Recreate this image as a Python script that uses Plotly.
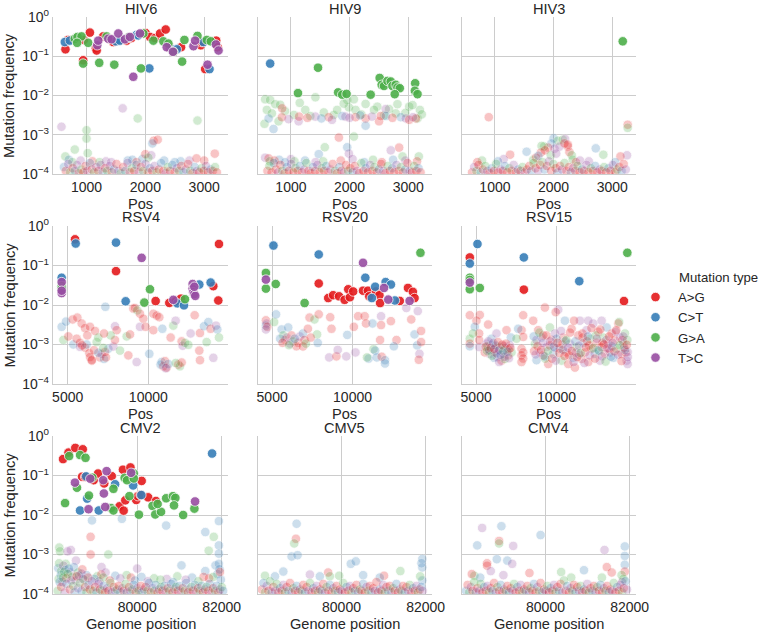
import plotly.graph_objects as go

# ---------------- data (position, mutation frequency, mutation type code) ----------------
# type codes: A -> "A>G", C -> "C>T", G -> "G>A", T -> "T>C"
TYPE_NAMES = {"A": "A>G", "C": "C>T", "G": "G>A", "T": "T>C"}
TYPE_ORDER = ["A>G", "C>T", "G>A", "T>C"]
TYPE_COLORS = {"A>G": "#e41a1c", "C>T": "#377eb8", "G>A": "#4daf4a", "T>C": "#984ea3"}

PANEL_ORDER = ["HIV6", "HIV9", "HIV3", "RSV4", "RSV20", "RSV15", "CMV2", "CMV5", "CMV4"]
X_TICKS = {"HIV": [1000, 2000, 3000], "RSV": [5000, 10000], "CMV": [80000, 82000]}
Y_TICKS = [1e-4, 1e-3, 1e-2, 1e-1, 1]
Y_TICK_TEXT = ["10<sup>−4</sup>", "10<sup>−3</sup>", "10<sup>−2</sup>", "10<sup>−1</sup>", "10<sup>0</sup>"]
X_LABELS = {"HIV": "Pos", "RSV": "Pos", "CMV": "Genome position"}
Y_LABEL = "Mutation frequency"
LEGEND_TITLE = "Mutation type"

HIV6_strong = [
    (642, .15, "A"), (688, .26, "A"), (955, .26, "A"), (1057, .40, "A"), (1159, .16, "A"), (1172, .14, "A"),
    (1284, .32, "A"), (1400, .27, "A"), (1454, .23, "A"), (1596, .26, "A"), (1682, .25, "A"), (1760, .29, "A"),
    (2005, .39, "A"), (2079, .31, "A"), (2164, .29, "A"), (2250, .38, "A"), (2346, .48, "A"), (2420, .16, "A"),
    (2607, .17, "A"), (2943, .19, "A"), (2960, .23, "A"), (3204, .25, "A"), (3227, .17, "A"), (943, .079, "A"),
    (3017, .047, "A"),
    (631, .23, "C"), (716, .25, "C"), (1500, .24, "C"), (1568, .25, "C"), (1852, .35, "C"), (1880, .34, "C"),
    (2448, .15, "C"), (2534, .15, "C"), (2988, .23, "C"), (2068, .049, "C"), (3091, .047, "C"),
    (801, .28, "G"), (846, .31, "G"), (915, .32, "G"), (840, .22, "G"), (1028, .22, "G"), (1341, .32, "G"),
    (1710, .30, "G"), (1966, .38, "G"), (2136, .25, "G"), (2306, .24, "G"), (2392, .21, "G"), (2477, .13, "G"),
    (2664, .26, "G"), (2886, .33, "G"), (3045, .26, "G"), (3113, .24, "G"), (943, .065, "G"), (1216, .068, "G"),
    (1472, .061, "G"), (1926, .049, "G"), (2625, .073, "G"),
    (1182, .19, "T"), (1199, .25, "T"), (1369, .28, "T"), (1426, .27, "T"), (1540, .38, "T"), (1653, .27, "T"),
    (1738, .31, "T"), (1909, .38, "T"), (2363, .17, "T"), (2470, .13, "T"), (2818, .18, "T"), (2846, .25, "T"),
    (3200, .20, "T"), (3244, .14, "T"), (1795, .030, "T"), (3057, .061, "T"),
]
HIV6_faint = [
    (574, 1.6e-3, "T"), (1614, 4.7e-3, "T"), (1870, 2.6e-3, "G"), (2886, 2.3e-3, "G"), (1000, 1.3e-3, "G"),
    (1000, 8e-4, "G"), (2140, 7e-4, "A"), (2210, 7.5e-4, "A"), (2120, 6e-4, "C"), (800, 4.2e-4, "G"),
    (640, 2.8e-4, "G"), (700, 2.3e-4, "C"), (760, 2.0e-4, "G"), (900, 2.2e-4, "T"), (1020, 3.4e-4, "G"),
    (1100, 2.1e-4, "A"), (1220, 2.0e-4, "G"), (1330, 2.1e-4, "T"), (1420, 2.0e-4, "T"), (1700, 2.2e-4, "C"),
    (1780, 2.3e-4, "C"), (1850, 2.0e-4, "A"), (1950, 2.4e-4, "C"), (2000, 3.2e-4, "A"), (2100, 3.0e-4, "T"),
    (2050, 2.6e-4, "G"), (2320, 2.2e-4, "C"), (2600, 2.1e-4, "C"), (2750, 2.2e-4, "T"), (2870, 2.5e-4, "A"),
    (3000, 2.2e-4, "A"), (3180, 3.3e-4, "A"), (2500, 2.0e-4, "C"),
    (615, 1.5e-4, "C"), (648, 1.2e-4, "A"), (690, 1.8e-4, "T"), (722, 1.1e-4, "G"), (765, 1.4e-4, "A"),
    (801, 1.2e-4, "C"), (838, 1.7e-4, "T"), (870, 1.05e-4, "A"), (912, 1.3e-4, "G"), (947, 1.1e-4, "A"),
    (985, 1.6e-4, "A"), (1012, 1.2e-4, "T"), (1056, 1.9e-4, "C"), (1090, 1.3e-4, "A"), (1128, 1.1e-4, "G"),
    (1165, 1.5e-4, "T"), (1203, 1.2e-4, "A"), (1241, 1.7e-4, "T"), (1276, 1.1e-4, "C"), (1318, 1.4e-4, "A"),
    (1352, 1.2e-4, "G"), (1395, 1.6e-4, "T"), (1430, 1.1e-4, "A"), (1468, 1.3e-4, "C"), (1509, 1.8e-4, "A"),
    (1544, 1.2e-4, "T"), (1583, 1.05e-4, "G"), (1622, 1.5e-4, "A"), (1660, 1.2e-4, "C"), (1697, 1.9e-4, "T"),
    (1735, 1.1e-4, "A"), (1772, 1.4e-4, "G"), (1811, 1.2e-4, "A"), (1849, 1.7e-4, "C"), (1887, 1.1e-4, "T"),
    (1925, 1.5e-4, "A"), (1962, 1.2e-4, "G"), (2004, 1.8e-4, "T"), (2041, 1.1e-4, "A"), (2079, 1.4e-4, "C"),
    (2118, 1.2e-4, "A"), (2155, 1.6e-4, "T"), (2193, 1.1e-4, "G"), (2231, 1.3e-4, "A"), (2268, 1.9e-4, "C"),
    (2307, 1.2e-4, "A"), (2345, 1.05e-4, "T"), (2383, 1.5e-4, "G"), (2420, 1.2e-4, "A"), (2458, 1.7e-4, "C"),
    (2497, 1.1e-4, "A"), (2535, 1.4e-4, "T"), (2572, 1.2e-4, "G"), (2611, 1.6e-4, "A"), (2649, 1.1e-4, "C"),
    (2687, 1.3e-4, "T"), (2725, 1.8e-4, "A"), (2763, 1.2e-4, "G"), (2802, 1.05e-4, "A"), (2840, 1.5e-4, "C"),
    (2878, 1.2e-4, "T"), (2916, 1.1e-4, "A"), (2955, 1.4e-4, "G"), (2993, 1.2e-4, "A"), (3031, 1.6e-4, "T"),
    (3070, 1.1e-4, "A"), (3108, 1.3e-4, "C"), (3146, 1.2e-4, "A"), (3185, 1.5e-4, "G"), (3215, 1.1e-4, "A"),
]

HIV9_strong = [
    (646, .065, "C"), (1462, .051, "G"), (1120, .0115, "G"), (1805, .012, "G"), (1874, .0105, "G"),
    (1948, .011, "G"), (2359, .0105, "G"), (2513, .028, "G"), (2547, .0187, "G"), (2587, .0175, "G"),
    (2645, .0235, "G"), (2702, .0227, "G"), (2730, .0175, "G"), (2787, .0187, "G"), (2816, .016, "G"),
    (2856, .0153, "G"), (2770, .0108, "G"), (3118, .0205, "G"), (3113, .0132, "G"), (3158, .0108, "G"),
]
HIV9_faint = [
    (560, 8e-3, "G"), (646, 7.7e-3, "G"), (732, 6e-3, "G"), (817, 5.8e-3, "G"), (589, 4.3e-3, "G"),
    (675, 3.5e-3, "G"), (549, 1.9e-3, "G"), (789, 2.2e-3, "G"), (1245, 4.3e-3, "G"), (1417, 9e-3, "G"),
    (1560, 3.7e-3, "G"), (1731, 3.2e-3, "G"), (1988, 5e-3, "G"), (2102, 4.3e-3, "G"), (1960, 7.7e-3, "G"),
    (2073, 8e-3, "G"), (2273, 6.1e-3, "G"), (2473, 5.2e-3, "G"), (2673, 4.5e-3, "G"), (2816, 6e-3, "G"),
    (3016, 5.2e-3, "G"), (3198, 4.3e-3, "G"), (3158, 2.6e-3, "G"), (3073, 5.7e-3, "G"), (2787, 3.5e-3, "G"),
    (2416, 4.3e-3, "G"), (1788, 4.3e-3, "G"), (1577, 4.8e-4, "G"), (2073, 9e-4, "G"), (1050, 3.2e-3, "G"),
    (1330, 3.0e-3, "G"), (900, 4.0e-3, "G"), (2200, 3.3e-3, "G"), (2590, 3.1e-3, "G"), (2950, 3.6e-3, "G"),
    (1150, 6.5e-3, "G"), (1900, 6.2e-3, "G"), (3230, 3.3e-3, "G"),
    (846, 2.8e-3, "A"), (850, 4.7e-3, "A"), (1131, 2.2e-3, "T"), (703, 1.4e-3, "C"), (620, 2.6e-3, "C"),
    (1140, 2.9e-3, "A"), (1417, 2.9e-3, "T"), (1645, 2.8e-3, "A"), (1874, 3.0e-3, "C"), (1930, 2.9e-3, "T"),
    (2102, 2.8e-3, "A"), (2273, 2.6e-3, "A"), (2273, 1.7e-3, "C"), (2502, 2.2e-3, "A"), (2616, 4.5e-3, "T"),
    (2530, 3.0e-3, "A"), (2873, 2.8e-3, "C"), (2959, 2.6e-3, "T"), (3016, 2.4e-3, "A"), (3130, 2.6e-3, "A"),
    (2620, 3.0e-3, "C"), (1817, 8.5e-4, "A"), (960, 2.5e-3, "T"), (1280, 2.7e-3, "A"), (1520, 2.6e-3, "C"),
    (2000, 2.7e-3, "T"), (2380, 2.9e-3, "T"), (2730, 2.7e-3, "A"), (3080, 2.8e-3, "T"), (1700, 2.4e-3, "T"),
    (2180, 3.1e-3, "C"),
    (2845, 4.7e-4, "A"), (2702, 4e-4, "T"), (2742, 2.3e-4, "C"), (2902, 2.8e-4, "G"), (3180, 2.8e-4, "G"),
    (1960, 4.8e-4, "C"), (1988, 3.3e-4, "T"), (1474, 3.2e-4, "C"), (560, 2.6e-4, "T"), (620, 2.5e-4, "A"),
    (800, 2.3e-4, "C"), (1000, 2.4e-4, "T"),
    (640, 2.1e-4, "G"), (720, 2.2e-4, "A"), (900, 2.0e-4, "C"), (1060, 2.1e-4, "G"), (1240, 2.2e-4, "C"),
    (1420, 2.0e-4, "T"), (1550, 2.1e-4, "G"), (1850, 2.2e-4, "A"), (2050, 2.4e-4, "T"), (2250, 2.0e-4, "C"),
    (2400, 2.3e-4, "G"), (2550, 2.0e-4, "A"), (2950, 2.2e-4, "T"), (3150, 2.1e-4, "A"),
    (600, 1.2e-4, "A"), (633, 1.6e-4, "G"), (671, 1.1e-4, "A"), (707, 1.9e-4, "C"), (744, 1.3e-4, "A"),
    (782, 1.1e-4, "T"), (819, 1.7e-4, "A"), (853, 1.2e-4, "G"), (893, 1.05e-4, "A"), (929, 1.5e-4, "C"),
    (966, 1.2e-4, "A"), (1004, 1.8e-4, "T"), (1041, 1.1e-4, "A"), (1077, 1.4e-4, "G"), (1115, 1.2e-4, "A"),
    (1152, 1.6e-4, "C"), (1190, 1.1e-4, "A"), (1228, 1.3e-4, "T"), (1263, 1.9e-4, "G"), (1301, 1.2e-4, "A"),
    (1339, 1.05e-4, "A"), (1376, 1.5e-4, "C"), (1413, 1.2e-4, "A"), (1451, 1.7e-4, "T"), (1488, 1.1e-4, "A"),
    (1526, 1.4e-4, "G"), (1562, 1.2e-4, "A"), (1600, 1.6e-4, "C"), (1639, 1.1e-4, "A"), (1675, 1.3e-4, "T"),
    (1713, 1.8e-4, "A"), (1750, 1.2e-4, "G"), (1788, 1.05e-4, "A"), (1826, 1.5e-4, "C"), (1862, 1.2e-4, "A"),
    (1900, 1.1e-4, "T"), (1938, 1.7e-4, "A"), (1975, 1.2e-4, "G"), (2013, 1.4e-4, "A"), (2050, 1.1e-4, "C"),
    (2088, 1.6e-4, "A"), (2126, 1.2e-4, "T"), (2163, 1.05e-4, "A"), (2200, 1.9e-4, "G"), (2238, 1.2e-4, "A"),
    (2276, 1.4e-4, "C"), (2312, 1.1e-4, "A"), (2350, 1.7e-4, "T"), (2388, 1.2e-4, "A"), (2425, 1.5e-4, "G"),
    (2463, 1.1e-4, "A"), (2500, 1.3e-4, "C"), (2537, 1.8e-4, "A"), (2575, 1.2e-4, "T"), (2612, 1.05e-4, "A"),
    (2650, 1.6e-4, "G"), (2688, 1.2e-4, "A"), (2725, 1.4e-4, "C"), (2762, 1.1e-4, "A"), (2800, 1.7e-4, "T"),
    (2838, 1.2e-4, "A"), (2875, 1.5e-4, "G"), (2912, 1.1e-4, "A"), (2950, 1.3e-4, "C"), (2988, 1.9e-4, "A"),
    (3025, 1.2e-4, "T"), (3062, 1.1e-4, "A"), (3100, 1.6e-4, "G"), (3138, 1.2e-4, "A"), (3175, 1.4e-4, "C"),
    (3210, 1.1e-4, "A"),
]

HIV3_strong = [(3179, .24, "G")]
HIV3_faint = [
    (3263, 1.8e-3, "A"), (3263, 1.5e-3, "G"), (895, 2.8e-3, "A"), (2000, 8.1e-4, "C"), (2073, 7e-4, "G"),
    (2157, 7.5e-4, "G"), (2197, 7.8e-4, "T"), (2242, 5e-4, "A"), (2270, 3.6e-4, "A"), (2309, 3e-4, "G"),
    (2326, 2.3e-4, "G"), (1963, 6e-4, "C"), (1906, 4.7e-4, "A"), (1839, 5e-4, "G"), (1795, 5.2e-4, "G"),
    (1783, 3.5e-4, "A"), (1850, 4e-4, "A"), (1952, 3e-4, "G"), (2017, 4.4e-4, "T"), (2101, 5e-4, "T"),
    (2185, 6e-4, "A"), (2242, 5.6e-4, "A"), (2045, 3.3e-4, "T"), (1540, 3.7e-4, "C"), (2719, 4.5e-4, "C"),
    (2848, 3.1e-4, "G"), (3252, 3e-4, "T"), (3140, 2.8e-4, "A"), (1259, 3.1e-4, "A"), (1652, 2.3e-4, "G"),
    (1700, 2.6e-4, "A"), (1740, 2.9e-4, "C"), (2380, 2.0e-4, "A"), (2450, 2.2e-4, "T"), (1150, 2.4e-4, "T"),
    (780, 2.2e-4, "G"), (700, 2.0e-4, "A"), (1050, 2.1e-4, "C"), (2600, 2.1e-4, "T"), (3050, 2.0e-4, "C"),
    (610, 1.1e-4, "A"), (645, 1.5e-4, "T"), (685, 1.2e-4, "G"), (720, 1.7e-4, "A"), (760, 1.1e-4, "C"),
    (795, 1.3e-4, "A"), (835, 1.6e-4, "G"), (870, 1.2e-4, "T"), (910, 1.05e-4, "A"), (945, 1.4e-4, "C"),
    (985, 1.2e-4, "A"), (1020, 1.8e-4, "G"), (1060, 1.1e-4, "A"), (1095, 1.3e-4, "T"), (1135, 1.2e-4, "A"),
    (1170, 1.6e-4, "C"), (1210, 1.1e-4, "A"), (1245, 1.4e-4, "G"), (1285, 1.2e-4, "A"), (1320, 1.7e-4, "T"),
    (1360, 1.1e-4, "A"), (1395, 1.3e-4, "C"), (1435, 1.2e-4, "A"), (1470, 1.5e-4, "G"), (1510, 1.1e-4, "T"),
    (1545, 1.3e-4, "A"), (1585, 1.6e-4, "A"), (1620, 1.2e-4, "C"), (1660, 1.9e-4, "G"), (1695, 1.4e-4, "A"),
    (1735, 1.2e-4, "T"), (1770, 1.7e-4, "A"), (1810, 2.0e-4, "G"), (1845, 1.3e-4, "C"), (1885, 1.6e-4, "A"),
    (1920, 2.1e-4, "T"), (1960, 1.2e-4, "A"), (1995, 1.8e-4, "G"), (2035, 1.4e-4, "A"), (2070, 1.1e-4, "C"),
    (2110, 1.6e-4, "A"), (2145, 1.3e-4, "T"), (2185, 1.9e-4, "G"), (2220, 1.2e-4, "A"), (2260, 1.5e-4, "A"),
    (2295, 1.1e-4, "C"), (2335, 1.4e-4, "T"), (2370, 1.2e-4, "A"), (2410, 1.6e-4, "G"), (2445, 1.1e-4, "A"),
    (2485, 1.3e-4, "C"), (2520, 1.2e-4, "A"), (2560, 1.7e-4, "T"), (2595, 1.1e-4, "A"), (2635, 1.4e-4, "G"),
    (2670, 1.2e-4, "A"), (2710, 1.6e-4, "C"), (2745, 1.1e-4, "A"), (2785, 1.3e-4, "T"), (2820, 1.2e-4, "A"),
    (2860, 1.5e-4, "G"), (2895, 1.1e-4, "A"), (2935, 1.4e-4, "C"), (2970, 1.2e-4, "A"), (3010, 1.7e-4, "T"),
    (3045, 1.1e-4, "A"), (3085, 1.3e-4, "G"), (3120, 1.5e-4, "A"), (3160, 1.2e-4, "C"), (3195, 1.8e-4, "A"),
    (3230, 1.3e-4, "T"),
]

RSV4_strong = [
    (4628, .049, "C"), (4628, .038, "T"), (4628, .020, "T"), (4628, .030, "G"), (4628, .026, "G"),
    (4628, .023, "T"), (5455, .46, "A"), (5496, .36, "C"), (7996, .38, "C"), (7996, .072, "A"),
    (9587, .156, "T"), (8595, .0124, "C"), (9752, .0115, "G"), (10103, .025, "G"), (10454, .0126, "A"),
    (11301, .0113, "A"), (11550, .0135, "T"), (11700, .0125, "A"), (11797, .011, "C"), (12024, .0145, "A"),
    (12272, .014, "G"), (12210, .0098, "C"), (12748, .034, "T"), (12748, .026, "T"), (12790, .021, "T"),
    (12850, .019, "T"), (12910, .017, "T"), (12850, .029, "T"), (13161, .033, "C"), (13863, .037, "C"),
    (14029, .030, "A"), (14339, .013, "A"), (14380, .35, "A"),
]
RSV4_faint = [
    (4628, 2.8e-3, "C"), (4897, 3.8e-3, "C"), (4731, 1.3e-3, "G"), (5041, 1.6e-3, "A"), (5351, 1.0e-3, "C"),
    (5310, 4.3e-3, "A"), (5600, 4.8e-3, "A"), (5868, 3.4e-3, "A"), (6074, 2.6e-3, "A"), (6384, 2.8e-3, "A"),
    (6694, 2.2e-3, "A"), (6219, 1.7e-3, "A"), (5558, 1.4e-3, "A"), (5764, 1.1e-3, "A"), (5764, 8.7e-4, "T"),
    (6074, 8.3e-4, "A"), (6177, 1e-3, "C"), (6343, 6e-4, "A"), (6384, 4.8e-4, "A"), (6487, 4.1e-4, "A"),
    (6632, 7.2e-4, "A"), (6797, 1.15e-3, "G"), (6900, 1.5e-3, "G"), (7004, 4.7e-4, "A"), (7107, 5.8e-4, "T"),
    (7252, 4.3e-4, "C"), (7314, 6.5e-4, "A"), (7376, 4.7e-4, "A"), (7521, 7.8e-4, "C"), (7831, 8.9e-4, "T"),
    (7934, 2.9e-3, "T"), (8038, 2.3e-3, "A"), (7934, 1.3e-3, "A"), (7335, 9e-3, "C"), (7666, 1.7e-3, "G"),
    (7252, 1.9e-3, "A"), (8245, 7e-4, "G"), (8761, 5.3e-4, "A"), (8658, 1.6e-3, "G"), (8865, 1.8e-3, "A"),
    (9071, 8.1e-3, "A"), (9174, 8.4e-3, "A"), (9318, 7.3e-3, "G"), (9483, 6e-3, "A"), (9277, 3.6e-4, "T"),
    (9483, 2.8e-3, "T"), (9690, 4.5e-3, "A"), (9835, 2.8e-3, "A"), (10062, 5.8e-4, "C"), (10310, 2.3e-3, "A"),
    (10310, 6e-3, "A"), (10516, 5.4e-3, "A"), (10682, 4.9e-3, "A"), (10868, 2.5e-3, "C"), (10826, 3.6e-4, "C"),
    (10929, 2.8e-4, "A"), (11033, 3.8e-4, "A"), (11136, 2.6e-4, "A"), (11240, 3.2e-4, "C"), (11384, 1.5e-3, "A"),
    (11550, 3e-3, "G"), (11694, 4e-3, "T"), (11859, 3.1e-4, "A"), (11962, 2.8e-4, "G"), (12066, 3.5e-4, "A"),
    (12066, 1.2e-3, "A"), (12128, 9.3e-4, "T"), (12272, 1.1e-3, "G"), (12479, 9.8e-4, "G"), (12624, 1.9e-3, "T"),
    (12872, 5.5e-3, "A"), (13161, 7e-4, "A"), (13203, 1.95e-3, "A"), (13203, 4e-4, "A"), (13451, 2.9e-3, "C"),
    (13720, 3.7e-3, "C"), (13616, 1.15e-3, "G"), (13863, 2.5e-3, "A"), (14029, 4.6e-4, "T"), (14194, 3e-3, "T"),
    (14277, 2.4e-3, "C"), (14380, 1.5e-3, "G"), (10760, 3.1e-4, "C"), (11080, 2.5e-4, "T"), (11700, 3.4e-4, "G"),
    (6500, 3.9e-4, "A"), (6900, 6.2e-4, "C"), (7200, 8.2e-4, "G"), (5900, 9.5e-4, "A"),
]

RSV20_strong = [
    (5082, .32, "C"), (7897, .19, "C"), (10651, .117, "T"), (14221, .21, "G"), (4612, .065, "G"),
    (4612, .044, "T"), (4612, .026, "G"), (5224, .034, "G"), (7020, .0112, "G"), (7897, .035, "A"),
    (8488, .015, "A"), (8794, .0177, "A"), (9162, .0166, "A"), (9508, .0135, "A"), (9733, .025, "A"),
    (9835, .0157, "A"), (10039, .022, "A"), (10651, .023, "A"), (10957, .023, "A"), (11038, .0166, "A"),
    (11467, .022, "A"), (11671, .0177, "A"), (11712, .0112, "A"), (12936, .0127, "A"), (13446, .027, "A"),
    (13752, .0215, "A"), (13854, .015, "A"),
    (10794, .049, "C"), (11406, .029, "C"), (11202, .015, "C"), (12058, .038, "C"), (12385, .033, "C"),
    (12630, .013, "C"), (11956, .027, "T"), (12222, .0137, "T"), (13548, .0127, "T"),
]
RSV20_faint = [
    (4612, 4.1e-3, "A"), (4612, 3e-3, "C"), (4650, 3.4e-3, "T"), (4700, 2.8e-3, "A"), (5126, 3.7e-3, "G"),
    (5245, 5.8e-3, "C"), (5592, 2.4e-3, "C"), (6000, 2.7e-3, "C"), (5694, 1.7e-3, "G"), (5796, 1.3e-3, "A"),
    (5898, 1.5e-3, "T"), (6204, 1.7e-3, "A"), (6306, 1.2e-3, "G"), (6612, 1.1e-3, "A"), (6714, 1.6e-3, "T"),
    (6918, 1.9e-3, "C"), (7020, 1.3e-3, "A"), (7224, 2.5e-3, "A"), (7326, 4.8e-3, "A"), (7632, 4.3e-3, "G"),
    (7795, 1.8e-3, "G"), (7897, 5.8e-3, "A"), (7836, 1.1e-3, "C"), (6510, 9e-4, "A"), (6918, 8.9e-4, "A"),
    (6102, 1.05e-3, "T"), (8611, 4.9e-3, "A"), (8549, 4.7e-4, "T"), (8998, 5e-4, "A"), (9080, 7.3e-4, "T"),
    (8692, 2.5e-3, "A"), (9672, 1.75e-3, "C"), (9611, 5e-4, "T"), (10080, 2.8e-3, "A"), (10182, 6.3e-4, "T"),
    (10345, 5.2e-3, "A"), (10753, 5.2e-3, "A"), (10835, 3.4e-3, "A"), (10998, 4.4e-4, "C"), (10896, 4.7e-4, "G"),
    (11243, 3.4e-3, "C"), (11304, 7.6e-4, "G"), (11406, 7e-4, "C"), (11508, 4.7e-4, "C"), (11712, 1.3e-3, "A"),
    (11773, 5.2e-3, "T"), (11773, 3.1e-3, "A"), (11814, 4.9e-4, "A"), (12018, 4e-4, "C"), (12018, 3.3e-4, "C"),
    (12385, 3.9e-3, "A"), (12732, 1.3e-3, "A"), (12569, 9e-4, "C"), (13344, 8.4e-3, "T"), (13650, 4.3e-3, "A"),
    (13854, 1.8e-3, "C"), (14058, 7e-3, "T"), (14017, 9.5e-4, "C"), (14160, 5.8e-4, "T"), (14119, 4.1e-4, "A"),
    (14262, 2.2e-3, "A"), (14262, 1.15e-3, "A"), (5500, 1.4e-3, "C"), (5650, 1.1e-3, "A"), (6050, 9.6e-4, "G"),
    (6400, 1.4e-3, "C"), (7100, 1.05e-3, "G"), (7400, 1.5e-3, "A"), (4612, 2.4e-3, "T"),
]

RSV15_strong = [
    (5083, .35, "C"), (4606, .16, "A"), (4606, .112, "C"), (4606, .049, "G"), (4606, .043, "G"),
    (4606, .037, "T"), (4606, .025, "G"), (5228, .027, "G"), (7967, .16, "C"), (7967, .0245, "A"),
    (11412, .040, "C"), (14400, .21, "G"), (14192, .0126, "A"),
]
RSV15_faint = [
    (4606, 5.5e-3, "A"), (4606, 1.4e-3, "G"), (4606, 1.05e-3, "A"), (4606, 9e-4, "C"), (5187, 8.6e-4, "T"),
    (5228, 5.6e-3, "A"), (5021, 4e-3, "A"), (4917, 2.8e-3, "C"), (5187, 1.9e-3, "A"), (4800, 1.9e-3, "G"),
    (5187, 1.3e-3, "A"),
    (5643, 1.05e-3, "T"), (5747, 7.8e-4, "A"), (5851, 5.8e-4, "T"), (5996, 9.8e-4, "C"), (6162, 6.4e-4, "A"),
    (6328, 4.8e-4, "T"), (6473, 8.6e-4, "G"), (6577, 3.9e-4, "A"), (6681, 5.8e-4, "T"), (6826, 7.8e-4, "C"),
    (6992, 5.3e-4, "A"), (7096, 9.5e-4, "T"), (7200, 6.3e-4, "G"), (5955, 1.4e-3, "C"), (5747, 3.2e-3, "A"),
    (6266, 1.9e-3, "T"), (6888, 2.3e-3, "A"), (7158, 1.5e-3, "C"), (5540, 6.3e-4, "A"), (6121, 4.6e-4, "C"),
    (6432, 3.6e-4, "T"), (6784, 4.3e-4, "G"), (5700, 9e-4, "G"), (6050, 7.4e-4, "T"), (6380, 6.8e-4, "C"),
    (6700, 9.2e-4, "T"), (7020, 7.4e-4, "A"),
    (5600, 8.8e-4, "A"), (5680, 6.9e-4, "G"), (5760, 1.2e-3, "T"), (5820, 7.1e-4, "C"), (5910, 8.2e-4, "A"),
    (5980, 5.2e-4, "G"), (6060, 1.1e-3, "T"), (6140, 7.7e-4, "A"), (6210, 9.4e-4, "C"), (6290, 5.9e-4, "T"),
    (6360, 1.15e-3, "A"), (6440, 7.2e-4, "T"), (6520, 5.5e-4, "C"), (6610, 9.9e-4, "A"), (6690, 7.0e-4, "G"),
    (6760, 4.9e-4, "T"), (6850, 1.05e-3, "A"), (6940, 6.6e-4, "C"), (7040, 4.5e-4, "T"), (7130, 8.1e-4, "A"),
    (7822, 2.3e-3, "A"), (7926, 1.55e-3, "A"), (7822, 7.8e-4, "A"), (7926, 6.3e-4, "A"), (7822, 5.3e-4, "A"),
    (7926, 4.4e-4, "A"), (7822, 3.6e-4, "A"), (7926, 5.5e-3, "A"), (7615, 2.5e-3, "C"), (7511, 1.4e-3, "G"),
    (8548, 4e-3, "A"), (8652, 1.04e-3, "G"), (8756, 4e-4, "C"), (8860, 2.3e-3, "A"), (8963, 6.3e-4, "T"),
    (9067, 1.5e-3, "C"), (9171, 5.3e-4, "A"), (9275, 8.6e-3, "A"), (9378, 8.6e-4, "T"), (9482, 3.2e-4, "A"),
    (9586, 2.7e-3, "G"), (9690, 1.3e-3, "A"), (9793, 5.8e-4, "C"), (9897, 1.9e-3, "T"), (10104, 7.6e-3, "T"),
    (10208, 7.8e-4, "A"), (10312, 3.9e-4, "G"), (10416, 1.5e-3, "A"), (10519, 4e-3, "C"), (10623, 6.3e-4, "A"),
    (10727, 3.2e-4, "A"), (10831, 1.04e-3, "T"), (10935, 2.5e-3, "A"), (11038, 4.6e-4, "C"), (11142, 2.6e-4, "A"),
    (11246, 8.6e-4, "G"), (11350, 1.7e-3, "A"), (11454, 4e-3, "T"), (11557, 4.3e-4, "A"), (11661, 1.1e-3, "C"),
    (11765, 6.3e-4, "A"), (11868, 2.3e-3, "T"), (11972, 3.6e-4, "A"), (12076, 1.4e-3, "G"), (12180, 7.8e-4, "A"),
    (12283, 3.4e-3, "T"), (12387, 5.8e-4, "C"), (12491, 1.1e-3, "A"), (12595, 2.1e-3, "A"), (12699, 3.9e-4, "T"),
    (12802, 8.6e-4, "A"), (12906, 1.5e-3, "G"), (13010, 5.8e-4, "A"), (13113, 2.7e-3, "C"), (13217, 1.04e-3, "A"),
    (13321, 6.3e-4, "T"), (13425, 1.9e-3, "A"), (13528, 4.6e-4, "C"), (13632, 1.3e-3, "A"), (13736, 7.8e-4, "G"),
    (13840, 3.4e-3, "A"), (13943, 1.5e-3, "T"), (14047, 5.8e-4, "A"), (14151, 1.04e-3, "C"), (14255, 1.9e-3, "G"),
    (14359, 3.9e-4, "T"), (14421, 3.2e-4, "T"), (14296, 6.3e-4, "A"), (8756, 1.3e-3, "T"), (9171, 1.7e-3, "A"),
    (9586, 9.5e-4, "A"), (10000, 1.4e-3, "C"), (10364, 1e-3, "A"), (10779, 5.3e-4, "A"), (11194, 6.3e-4, "T"),
    (11609, 1.9e-3, "A"), (12024, 9.5e-4, "A"), (12439, 1.7e-3, "G"), (12854, 1.1e-3, "A"), (13269, 7.8e-4, "A"),
    (13684, 2.1e-3, "T"), (14099, 1.3e-3, "A"), (9949, 6.6e-3, "A"), (11090, 4e-3, "A"), (11972, 4e-3, "T"),
    (12802, 4e-3, "T"), (13892, 3.7e-3, "G"), (8600, 6.8e-4, "A"), (9300, 4.4e-4, "G"), (9900, 8.2e-4, "T"),
    (10550, 1.2e-3, "C"), (11400, 5.6e-4, "T"), (11900, 1.2e-3, "A"), (12650, 6.8e-4, "G"), (13100, 1.3e-3, "T"),
    (13450, 9e-4, "C"), (14200, 8.4e-4, "A"), (14400, 1.3e-3, "G"), (14420, 6.5e-4, "T"),
    (8580, 1.6e-3, "C"), (8700, 5.6e-4, "T"), (8820, 9.0e-4, "A"), (8930, 2.0e-3, "G"), (9040, 7.3e-4, "A"),
    (9150, 1.1e-3, "T"), (9260, 5.0e-4, "C"), (9370, 1.7e-3, "A"), (9480, 6.9e-4, "G"), (9600, 1.2e-3, "T"),
    (9720, 4.4e-4, "A"), (9830, 8.8e-4, "C"), (9950, 3.9e-4, "T"), (10060, 1.1e-3, "A"), (10170, 6.1e-4, "A"),
    (10280, 2.2e-3, "T"), (10390, 7.4e-4, "C"), (10500, 5.1e-4, "A"), (10610, 1.3e-3, "G"), (10720, 8.3e-4, "T"),
    (10840, 2.0e-3, "A"), (10950, 6.8e-4, "A"), (11060, 3.6e-4, "T"), (11170, 1.2e-3, "C"), (11280, 4.8e-4, "A"),
    (11390, 9.3e-4, "T"), (11500, 6.1e-4, "G"), (11620, 1.5e-3, "A"), (11730, 3.4e-4, "T"), (11840, 8.4e-4, "A"),
    (11950, 1.6e-3, "C"), (12060, 5.3e-4, "T"), (12170, 2.6e-3, "A"), (12280, 8.0e-4, "G"), (12390, 4.4e-4, "A"),
    (12500, 1.4e-3, "T"), (12610, 7.1e-4, "C"), (12720, 2.4e-3, "A"), (12830, 5.0e-4, "T"), (12940, 1.0e-3, "A"),
    (13050, 3.7e-4, "G"), (13160, 8.0e-4, "T"), (13270, 1.6e-3, "A"), (13380, 4.9e-4, "C"), (13490, 1.1e-3, "T"),
    (13600, 6.7e-4, "A"), (13710, 2.3e-3, "A"), (13820, 5.5e-4, "T"), (13930, 9.6e-4, "G"), (14040, 3.8e-4, "A"),
    (14150, 1.6e-3, "T"), (14260, 7.3e-4, "C"), (14370, 9.8e-4, "A"), (14430, 4.8e-4, "T"),
]

CMV2_strong = [
    (78243, .26, "A"), (78372, .38, "A"), (78388, .31, "G"), (78533, .50, "A"), (78646, .33, "G"),
    (78710, .46, "A"), (78775, .28, "G"), (78291, .020, "G"), (78525, .066, "T"), (78573, .049, "G"),
    (78694, .093, "A"), (78767, .092, "A"), (78791, .095, "C"), (78888, .083, "T"), (78936, .088, "G"),
    (78968, .076, "A"), (78646, .013, "C"), (78815, .026, "C"), (78856, .031, "G"), (78847, .014, "T"),
    (79073, .112, "A"), (79194, .076, "T"), (79218, .063, "A"), (79210, .035, "T"), (79089, .013, "C"),
    (79275, .129, "T"), (79396, .096, "A"), (79476, .060, "C"), (79436, .046, "G"), (79242, .016, "T"),
    (79380, .015, "G"), (79436, .013, "G"), (79581, .0166, "A"), (79678, .0129, "A"), (79718, .0235, "A"),
    (79815, .030, "G"), (79662, .14, "A"), (79839, .16, "A"), (79855, .117, "T"), (79702, .087, "G"),
    (79758, .076, "G"), (79919, .112, "G"), (79919, .084, "G"), (79903, .056, "C"), (80105, .073, "A"),
    (80040, .0102, "G"), (79976, .024, "A"), (80016, .030, "A"), (80081, .032, "A"), (80097, .032, "C"),
    (80258, .028, "A"), (80443, .0226, "A"), (80363, .017, "G"), (80427, .0103, "G"), (80564, .012, "G"),
    (80483, .019, "G"), (80685, .0265, "G"), (80846, .030, "G"), (80903, .027, "G"), (80871, .0175, "G"),
    (81088, .010, "G"), (81370, .022, "T"), (81354, .0145, "G"), (81773, .36, "C"),
]
CMV2_faint = [
    (78928, 7.3e-3, "C"), (79637, 8e-3, "C"), (80685, 5.4e-3, "C"), (81612, 3.7e-3, "C"), (81934, 7e-3, "C"),
    (81813, 2.8e-3, "G"), (81693, 1.25e-3, "G"), (81934, 1.7e-3, "C"), (81934, 1.05e-3, "C"), (78896, 2.8e-3, "A"),
    (78896, 1e-3, "A"), (79315, 1e-3, "G"), (78154, 1.5e-3, "G"), (78170, 1.2e-3, "G"), (78428, 1.3e-3, "T"),
    (78350, 1.2e-3, "T"), (78307, 5.8e-4, "G"), (78549, 7e-4, "T"), (81048, 5.3e-4, "C"), (81612, 3.8e-4, "C"),
    (81854, 5.3e-4, "C"), (81934, 5.8e-4, "C"), (81572, 2.7e-4, "A"), (79154, 4.8e-4, "T"), (80000, 4.4e-4, "T"),
    (78130, 4.5e-4, "C"), (78150, 6e-4, "G"), (78200, 3.8e-4, "G"), (78250, 5.2e-4, "T"), (78300, 4e-4, "C"),
    (78420, 3.5e-4, "T"), (78500, 4.8e-4, "C"), (78600, 3.5e-4, "G"), (78700, 4.2e-4, "A"), (78800, 3e-4, "C"),
    (79050, 2.8e-4, "G"), (79150, 3.1e-4, "A"), (79250, 3.5e-4, "T"), (79480, 2.9e-4, "C"), (79750, 3.0e-4, "G"),
    (79850, 2.6e-4, "A"), (80100, 2.7e-4, "C"), (80400, 2.5e-4, "G"), (80700, 2.4e-4, "T"), (80950, 2.8e-4, "G"),
    (81300, 2.6e-4, "C"), (81700, 2.5e-4, "A"), (81900, 3.2e-4, "C"), (81950, 4.2e-4, "C"),
    (78140, 2.4e-4, "G"), (78190, 3.0e-4, "C"), (78230, 2.0e-4, "T"), (78270, 3.6e-4, "G"), (78320, 2.5e-4, "A"),
    (78380, 4.4e-4, "C"), (78460, 2.7e-4, "G"), (78540, 2.2e-4, "T"), (78620, 2.9e-4, "C"), (78680, 3.3e-4, "T"),
    (78750, 2.3e-4, "G"), (78840, 2.6e-4, "A"), (78990, 2.4e-4, "C"), (79100, 2.1e-4, "T"), (79200, 2.6e-4, "G"),
    (79350, 2.2e-4, "A"), (79600, 2.5e-4, "T"), (79950, 2.2e-4, "C"), (80250, 2.1e-4, "T"), (80550, 2.3e-4, "G"),
    (80850, 2.0e-4, "C"), (81150, 2.3e-4, "T"), (81450, 2.1e-4, "G"), (81800, 2.7e-4, "G"), (81980, 2.3e-4, "C"),
    (81960, 3.6e-4, "A"),
    (78117, 1.2e-4, "G"), (78162, 2.0e-4, "C"), (78198, 1.5e-4, "A"), (78247, 2.6e-4, "G"), (78281, 1.1e-4, "T"),
    (78326, 1.8e-4, "C"), (78357, 3.2e-4, "G"), (78404, 1.3e-4, "A"), (78436, 2.2e-4, "T"), (78483, 1.6e-4, "G"),
    (78518, 1.1e-4, "C"), (78566, 2.8e-4, "A"), (78597, 1.4e-4, "T"), (78644, 1.9e-4, "G"), (78683, 1.2e-4, "C"),
    (78716, 2.4e-4, "T"), (78764, 1.5e-4, "A"), (78797, 1.1e-4, "G"), (78846, 1.7e-4, "C"), (78877, 1.3e-4, "A"),
    (78924, 2.1e-4, "T"), (78963, 1.2e-4, "G"), (79004, 1.5e-4, "A"), (79037, 1.1e-4, "C"), (79085, 1.8e-4, "T"),
    (79118, 1.3e-4, "A"), (79164, 1.2e-4, "G"), (79203, 1.6e-4, "C"), (79238, 1.1e-4, "A"), (79285, 1.4e-4, "T"),
    (79317, 1.2e-4, "A"), (79366, 1.9e-4, "G"), (79398, 1.1e-4, "C"), (79445, 1.5e-4, "A"), (79477, 1.2e-4, "T"),
    (79524, 1.3e-4, "G"), (79563, 1.6e-4, "A"), (79596, 1.1e-4, "C"), (79643, 1.4e-4, "T"), (79678, 1.2e-4, "A"),
    (79724, 1.8e-4, "G"), (79757, 1.1e-4, "C"), (79805, 1.5e-4, "A"), (79838, 1.2e-4, "T"), (79884, 1.3e-4, "G"),
    (79917, 1.7e-4, "C"), (79965, 1.1e-4, "A"), (80003, 1.4e-4, "T"), (80036, 1.2e-4, "G"), (80084, 1.6e-4, "A"),
    (80118, 1.1e-4, "C"), (80164, 1.3e-4, "T"), (80197, 1.5e-4, "A"), (80245, 1.2e-4, "G"), (80277, 1.9e-4, "C"),
    (80324, 1.1e-4, "A"), (80358, 1.4e-4, "T"), (80404, 1.2e-4, "G"), (80437, 1.7e-4, "C"), (80485, 1.1e-4, "A"),
    (80517, 1.3e-4, "T"), (80564, 1.5e-4, "G"), (80598, 1.2e-4, "A"), (80643, 1.6e-4, "C"), (80677, 1.1e-4, "T"),
    (80724, 1.4e-4, "A"), (80758, 1.2e-4, "G"), (80804, 1.8e-4, "C"), (80837, 1.1e-4, "A"), (80884, 1.3e-4, "T"),
    (80918, 1.5e-4, "G"), (80963, 1.2e-4, "A"), (80997, 1.6e-4, "C"), (81044, 1.1e-4, "T"), (81077, 1.4e-4, "A"),
    (81124, 1.2e-4, "G"), (81158, 1.9e-4, "C"), (81203, 1.1e-4, "A"), (81237, 1.3e-4, "T"), (81284, 1.5e-4, "G"),
    (81318, 1.2e-4, "A"), (81364, 1.7e-4, "C"), (81397, 1.1e-4, "T"), (81443, 1.4e-4, "A"), (81478, 1.2e-4, "G"),
    (81524, 1.6e-4, "C"), (81557, 1.1e-4, "A"), (81604, 1.3e-4, "T"), (81638, 1.5e-4, "G"), (81683, 1.2e-4, "A"),
    (81717, 1.8e-4, "C"), (81764, 1.1e-4, "T"), (81797, 1.4e-4, "A"), (81843, 1.2e-4, "G"), (81878, 1.6e-4, "C"),
    (81924, 1.1e-4, "A"), (81957, 1.3e-4, "T"), (82003, 1.5e-4, "G"), (82034, 1.2e-4, "C"),
]

CMV5_strong = []
CMV5_faint = [
    (78934, 6e-3, "C"), (78918, 2.5e-3, "A"), (78878, 1.9e-3, "G"), (78815, 8.9e-4, "C"), (78957, 9.6e-4, "C"),
    (78618, 3.7e-4, "C"), (80221, 5.8e-4, "C"), (80340, 6.7e-4, "C"), (81920, 7.7e-4, "C"), (81920, 4.7e-4, "C"),
    (81920, 2.2e-4, "C"), (79684, 3.5e-4, "A"), (81398, 3.8e-4, "G"), (81011, 2.9e-4, "A"), (80909, 2.6e-4, "C"),
    (80514, 3e-4, "C"), (79945, 2.9e-4, "G"), (79723, 2.8e-4, "G"), (79486, 2.8e-4, "C"), (79250, 3.1e-4, "T"),
    (78420, 2.8e-4, "C"), (78183, 2.9e-4, "G"), (81900, 6.0e-4, "C"), (81870, 2.8e-4, "G"),
    (78108, 1.3e-4, "A"), (78146, 1.9e-4, "C"), (78187, 1.1e-4, "G"), (78223, 1.6e-4, "T"), (78266, 1.2e-4, "A"),
    (78302, 2.1e-4, "G"), (78344, 1.1e-4, "C"), (78381, 1.5e-4, "A"), (78423, 1.2e-4, "T"), (78460, 1.8e-4, "G"),
    (78501, 1.1e-4, "A"), (78539, 1.4e-4, "C"), (78580, 1.2e-4, "A"), (78618, 1.7e-4, "T"), (78659, 1.1e-4, "G"),
    (78697, 1.5e-4, "A"), (78738, 1.2e-4, "C"), (78776, 1.9e-4, "A"), (78817, 1.1e-4, "T"), (78855, 1.4e-4, "G"),
    (78896, 1.2e-4, "A"), (78934, 1.6e-4, "C"), (78975, 1.1e-4, "A"), (79013, 1.3e-4, "T"), (79054, 1.2e-4, "G"),
    (79092, 1.7e-4, "A"), (79133, 1.1e-4, "C"), (79171, 1.5e-4, "A"), (79212, 1.2e-4, "T"), (79250, 1.9e-4, "G"),
    (79291, 1.1e-4, "A"), (79329, 1.4e-4, "C"), (79370, 1.2e-4, "A"), (79408, 1.6e-4, "T"), (79449, 1.1e-4, "G"),
    (79487, 1.3e-4, "A"), (79528, 1.2e-4, "C"), (79566, 1.8e-4, "A"), (79607, 1.1e-4, "T"), (79645, 1.5e-4, "G"),
    (79686, 1.2e-4, "A"), (79724, 1.7e-4, "C"), (79765, 1.1e-4, "A"), (79803, 1.4e-4, "T"), (79844, 1.2e-4, "G"),
    (79882, 1.6e-4, "A"), (79923, 1.1e-4, "C"), (79961, 1.3e-4, "A"), (80002, 1.2e-4, "T"), (80040, 1.9e-4, "G"),
    (80081, 1.1e-4, "A"), (80119, 1.5e-4, "C"), (80160, 1.2e-4, "A"), (80198, 1.6e-4, "T"), (80239, 1.1e-4, "G"),
    (80277, 1.4e-4, "A"), (80318, 1.2e-4, "C"), (80356, 1.7e-4, "A"), (80397, 1.1e-4, "T"), (80435, 1.3e-4, "G"),
    (80476, 1.2e-4, "A"), (80514, 1.8e-4, "C"), (80555, 1.1e-4, "A"), (80593, 1.5e-4, "T"), (80634, 1.2e-4, "G"),
    (80672, 1.6e-4, "A"), (80713, 1.1e-4, "C"), (80751, 1.4e-4, "A"), (80792, 1.2e-4, "T"), (80830, 2.0e-4, "A"),
    (80871, 1.1e-4, "A"), (80909, 1.3e-4, "C"), (80950, 1.2e-4, "A"), (80988, 1.7e-4, "T"), (81029, 1.1e-4, "G"),
    (81067, 1.5e-4, "A"), (81108, 1.2e-4, "C"), (81146, 1.6e-4, "A"), (81187, 1.1e-4, "T"), (81225, 1.4e-4, "G"),
    (81266, 1.2e-4, "A"), (81304, 1.8e-4, "C"), (81345, 1.1e-4, "A"), (81383, 1.3e-4, "T"), (81424, 1.2e-4, "G"),
    (81462, 1.6e-4, "A"), (81503, 1.1e-4, "C"), (81541, 1.5e-4, "A"), (81582, 1.2e-4, "T"), (81620, 1.7e-4, "G"),
    (81661, 1.1e-4, "A"), (81699, 1.4e-4, "C"), (81740, 1.2e-4, "A"), (81778, 1.6e-4, "T"), (81819, 1.1e-4, "G"),
    (81857, 1.3e-4, "A"), (81898, 1.5e-4, "C"), (81930, 1.2e-4, "T"),
]

CMV4_strong = []
CMV4_faint = [
    (78495, 4.7e-3, "T"), (78953, 5.2e-3, "C"), (78379, 1.7e-3, "C"), (78898, 2.2e-3, "A"), (78898, 1.9e-3, "G"),
    (78844, 7.6e-4, "C"), (78612, 6e-4, "A"), (78612, 5.2e-4, "A"), (78310, 2.9e-4, "G"), (79233, 1.65e-3, "T"),
    (79093, 7e-4, "C"), (79209, 5.8e-4, "T"), (79884, 3.1e-3, "C"), (81402, 1.3e-3, "T"), (81457, 4.8e-4, "A"),
    (81573, 3.5e-4, "A"), (81884, 1.6e-3, "C"), (81884, 9.2e-4, "C"), (81884, 5.5e-4, "C"), (81884, 3.7e-4, "A"),
    (81807, 3e-4, "G"), (80914, 4e-4, "C"), (80372, 3.6e-4, "G"), (79619, 3.4e-4, "A"), (80611, 2.6e-4, "G"),
    (81340, 2.6e-4, "G"), (78250, 3.2e-4, "A"), (78450, 2.6e-4, "C"), (78700, 3.8e-4, "T"), (79000, 3.0e-4, "T"),
    (81850, 2.4e-4, "G"), (81820, 2.0e-4, "T"),
    (78112, 1.2e-4, "C"), (78151, 1.7e-4, "A"), (78189, 1.1e-4, "G"), (78228, 1.5e-4, "T"), (78268, 1.2e-4, "A"),
    (78305, 2.0e-4, "G"), (78346, 1.1e-4, "C"), (78384, 1.4e-4, "A"), (78425, 1.2e-4, "T"), (78462, 1.8e-4, "G"),
    (78503, 1.1e-4, "A"), (78541, 1.5e-4, "C"), (78582, 1.2e-4, "A"), (78620, 1.6e-4, "T"), (78661, 1.1e-4, "G"),
    (78699, 1.4e-4, "A"), (78740, 1.2e-4, "C"), (78778, 1.9e-4, "A"), (78819, 1.1e-4, "T"), (78857, 1.5e-4, "G"),
    (78898, 1.2e-4, "A"), (78936, 1.7e-4, "C"), (78977, 1.1e-4, "A"), (79015, 1.3e-4, "T"), (79056, 1.2e-4, "G"),
    (79094, 1.6e-4, "A"), (79135, 1.1e-4, "C"), (79173, 1.4e-4, "A"), (79214, 1.2e-4, "T"), (79252, 1.8e-4, "G"),
    (79293, 1.1e-4, "A"), (79331, 1.5e-4, "C"), (79372, 1.2e-4, "A"), (79410, 1.7e-4, "T"), (79451, 1.1e-4, "G"),
    (79489, 1.3e-4, "A"), (79530, 1.2e-4, "C"), (79568, 1.6e-4, "A"), (79609, 1.1e-4, "T"), (79647, 1.4e-4, "G"),
    (79688, 1.2e-4, "A"), (79726, 1.8e-4, "C"), (79767, 1.1e-4, "A"), (79805, 1.5e-4, "T"), (79846, 1.2e-4, "G"),
    (79884, 1.9e-4, "A"), (79925, 1.1e-4, "C"), (79963, 1.3e-4, "A"), (80004, 1.2e-4, "T"), (80042, 1.6e-4, "G"),
    (80083, 1.1e-4, "A"), (80121, 1.4e-4, "C"), (80162, 1.2e-4, "A"), (80200, 1.7e-4, "T"), (80241, 1.1e-4, "G"),
    (80279, 1.5e-4, "A"), (80320, 1.2e-4, "C"), (80358, 1.8e-4, "A"), (80399, 1.1e-4, "T"), (80437, 2.2e-4, "G"),
    (80478, 1.2e-4, "A"), (80516, 1.6e-4, "C"), (80557, 1.1e-4, "A"), (80595, 1.4e-4, "T"), (80636, 1.2e-4, "G"),
    (80674, 1.7e-4, "A"), (80715, 1.1e-4, "C"), (80753, 1.5e-4, "A"), (80794, 1.2e-4, "T"), (80832, 1.6e-4, "G"),
    (80873, 1.1e-4, "A"), (80911, 1.3e-4, "C"), (80952, 1.2e-4, "A"), (80990, 1.8e-4, "T"), (81031, 1.1e-4, "G"),
    (81069, 1.4e-4, "A"), (81110, 1.2e-4, "C"), (81148, 1.6e-4, "A"), (81189, 1.1e-4, "T"), (81227, 1.5e-4, "G"),
    (81268, 1.2e-4, "A"), (81306, 1.7e-4, "C"), (81347, 1.1e-4, "A"), (81385, 1.4e-4, "T"), (81426, 1.2e-4, "G"),
    (81464, 1.6e-4, "A"), (81505, 1.1e-4, "C"), (81543, 1.3e-4, "A"), (81584, 1.2e-4, "T"), (81622, 1.9e-4, "G"),
    (81663, 1.1e-4, "A"), (81701, 1.5e-4, "C"), (81742, 1.2e-4, "A"), (81780, 1.7e-4, "T"), (81821, 1.1e-4, "G"),
    (81859, 1.4e-4, "A"), (81900, 2.1e-4, "C"), (81935, 1.3e-4, "T"),
]

PANEL_DATA = {
    "HIV6": (HIV6_strong, HIV6_faint), "HIV9": (HIV9_strong, HIV9_faint), "HIV3": (HIV3_strong, HIV3_faint),
    "RSV4": (RSV4_strong, RSV4_faint), "RSV20": (RSV20_strong, RSV20_faint), "RSV15": (RSV15_strong, RSV15_faint),
    "CMV2": (CMV2_strong, CMV2_faint), "CMV5": (CMV5_strong, CMV5_faint), "CMV4": (CMV4_strong, CMV4_faint),
}

# ---------------- layout geometry (pixels in a 760 x 634 canvas) ----------------
W, H = 760, 634
COL_PX = [(53, 228), (257.5, 432), (461.5, 636)]
ROW_PX = [(17, 174), (226, 384), (436, 594)]
X_RANGES = {"HIV": [430, 3405], "RSV": [4090, 14940], "CMV": [78005, 82150]}

FONT = "Liberation Sans, Arial, sans-serif"
TXT = "#262626"
GRID = "#cccccc"
FS_LABEL = 14.6
FS_TICK = 14
FS_LEG = 13.2


def px_x(p):
    return p / W


def px_y(p):
    return 1 - p / H


fig = go.Figure()
annotations = []

for i, name in enumerate(PANEL_ORDER):
    r, c = divmod(i, 3)
    k = i + 1
    xa, ya = ("x", "y") if k == 1 else (f"x{k}", f"y{k}")
    virus = name[:3]
    strong, faint = PANEL_DATA[name]

    # faint (non-significant) points, one mixed-colour layer
    if faint:
        fig.add_trace(go.Scatter(
            x=[p for p, f, t in faint], y=[f for p, f, t in faint], mode="markers",
            marker=dict(size=9.5, color=[TYPE_COLORS[TYPE_NAMES[t]] for p, f, t in faint],
                        opacity=0.25, line=dict(color="white", width=0.8)),
            xaxis=xa, yaxis=ya, showlegend=False, hoverinfo="skip"))
    # strong points per mutation type
    for tname in TYPE_ORDER:
        pts = [(p, f) for p, f, t in strong if TYPE_NAMES[t] == tname]
        if not pts and k != 1:
            continue
        fig.add_trace(go.Scatter(
            x=[p for p, f in pts], y=[f for p, f in pts], mode="markers", name=tname,
            legendgroup=tname, showlegend=(k == 1),
            marker=dict(size=9.5, color=TYPE_COLORS[tname], opacity=0.9,
                        line=dict(color="white", width=0.8)),
            xaxis=xa, yaxis=ya))

    x0, x1 = COL_PX[c]
    y0, y1 = ROW_PX[r]
    axis_common = dict(showgrid=True, gridcolor=GRID, gridwidth=1.25, zeroline=False,
                       showline=True, linecolor=GRID, linewidth=1.25, ticks="", automargin=False,
                       tickfont=dict(family=FONT, size=FS_TICK, color=TXT))
    fig.layout[f"xaxis{'' if k == 1 else k}"] = dict(
        domain=[px_x(x0), px_x(x1)], anchor=ya, range=X_RANGES[virus],
        tickvals=X_TICKS[virus], ticktext=[str(v) for v in X_TICKS[virus]],
        ticklabelstandoff=0, **axis_common)
    fig.layout[f"yaxis{'' if k == 1 else k}"] = dict(
        domain=[px_y(y1), px_y(y0)], anchor=xa, type="log", range=[-4, 0],
        tickvals=Y_TICKS, ticktext=Y_TICK_TEXT, showticklabels=(c == 0),
        ticklabelstandoff=0, **axis_common)

    font = dict(family=FONT, size=FS_LABEL, color=TXT)
    annotations.append(dict(text=name, x=px_x((x0 + x1) / 2), y=px_y(y0 - 8.5), xref="paper", yref="paper",
                            xanchor="center", yanchor="middle", showarrow=False, font=font))
    annotations.append(dict(text=X_LABELS[virus], x=px_x((x0 + x1) / 2), y=px_y(y1 + 29.5),
                            xref="paper", yref="paper", xanchor="center", yanchor="middle",
                            showarrow=False, font=font))
    if c == 0:
        annotations.append(dict(text=Y_LABEL, x=px_x(9.5), y=px_y((y0 + y1) / 2), xref="paper", yref="paper",
                                xanchor="center", yanchor="middle", textangle=-90, showarrow=False, font=font))

annotations.append(dict(text=LEGEND_TITLE, x=px_x(677), y=px_y(278), xref="paper", yref="paper",
                        xanchor="left", yanchor="middle", showarrow=False,
                        font=dict(family=FONT, size=FS_LEG, color=TXT)))

fig.update_layout(
    width=W, height=H, margin=dict(l=0, r=0, t=0, b=0, autoexpand=False),
    paper_bgcolor="white", plot_bgcolor="white",
    font=dict(family=FONT, size=FS_LABEL, color=TXT),
    annotations=annotations,
    legend=dict(x=px_x(633), y=px_y(282), xanchor="left", yanchor="top",
                bgcolor="rgba(0,0,0,0)", borderwidth=0, tracegroupgap=0, itemwidth=35,
                font=dict(family=FONT, size=FS_LEG, color=TXT), itemsizing="trace"),
)

# the page body has a default 8px margin; remove it so the figure sits at the window origin
fig.write_html("out.html", config={"displayModeBar": False},
               post_script="document.body.style.margin='0px';")
